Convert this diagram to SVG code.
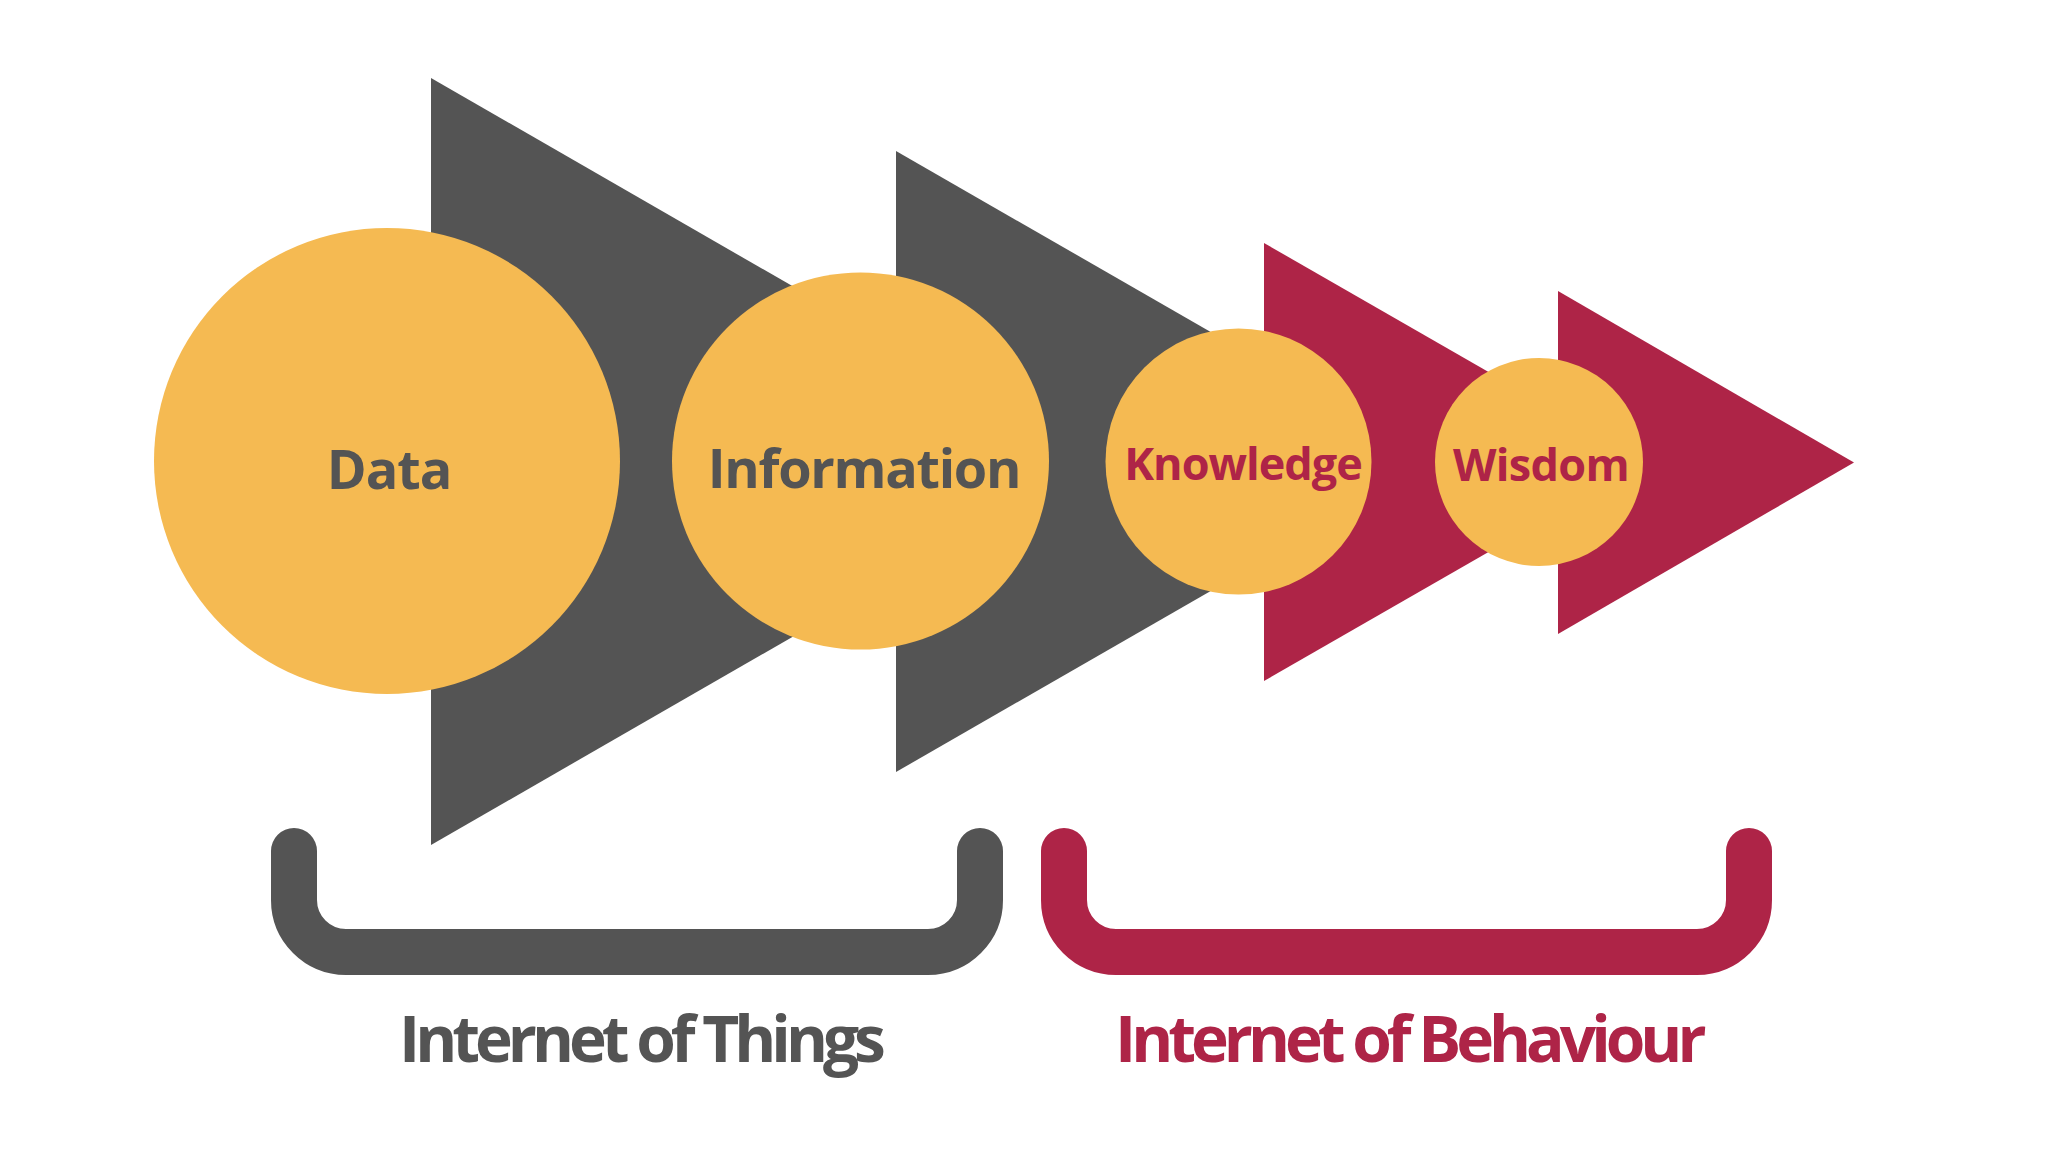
<svg xmlns="http://www.w3.org/2000/svg" width="2048" height="1152" viewBox="0 0 2048 1152">
  <style>
    .gray { fill: #545454; }
    .red { fill: #AE2447; }
    .circ { fill: #F5BA52; }
    .lbl { font-family: "Open Sans", "Noto Sans", sans-serif; font-weight: 700; text-anchor: middle; }
    .big { font-family: "Open Sans", "Noto Sans", sans-serif; font-weight: 700; font-size: 64px; letter-spacing: -5px; }
    .brk { fill: none; stroke-width: 46; stroke-linecap: round; stroke-linejoin: round; }
  </style>
  <rect width="2048" height="1152" fill="#ffffff"/>
  <g id="arrows">
    <polygon id="arrow-1" class="gray" points="431,78 431,845 1097,461.5"/>
    <polygon id="arrow-2" class="gray" points="896,151 896,772 1436,461.5"/>
    <polygon id="arrow-3" class="red" points="1264,243 1264,681 1645,462"/>
    <polygon id="arrow-4" class="red" points="1558,291 1558,634 1854,462.5"/>
  </g>
  <g id="node-data">
    <circle class="circ" cx="387" cy="461" r="233"/>
    <text class="lbl" x="389" y="489" font-size="54" fill="#545454" letter-spacing="-1">Data</text>
  </g>
  <g id="node-information">
    <circle class="circ" cx="860.5" cy="461" r="188.5"/>
    <text class="lbl" x="864" y="488" font-size="54" fill="#545454" letter-spacing="-1.3">Information</text>
  </g>
  <g id="node-knowledge">
    <circle class="circ" cx="1238.5" cy="461.5" r="133"/>
    <text class="lbl" x="1243" y="480" font-size="45" fill="#AE2447" letter-spacing="-1">Knowledge</text>
  </g>
  <g id="node-wisdom">
    <circle class="circ" cx="1539" cy="462" r="104"/>
    <text class="lbl" x="1541" y="481" font-size="45" fill="#AE2447" letter-spacing="-0.7">Wisdom</text>
  </g>
  <g id="connectors">
    <path id="bracket-iot" class="brk" stroke="#545454" d="M294,851 V900 A52,52 0 0 0 346,952 H928 A52,52 0 0 0 980,900 V851"/>
    <path id="bracket-iob" class="brk" stroke="#AE2447" d="M1064,851 V900 A52,52 0 0 0 1116,952 H1697 A52,52 0 0 0 1749,900 V851"/>
  </g>
  <g id="label-iot">
    <text class="big" x="399" y="1062" fill="#545454">Internet of Things</text>
  </g>
  <g id="label-iob">
    <text class="big" x="1115" y="1062" fill="#AE2447">Internet of Behaviour</text>
  </g>
</svg>
